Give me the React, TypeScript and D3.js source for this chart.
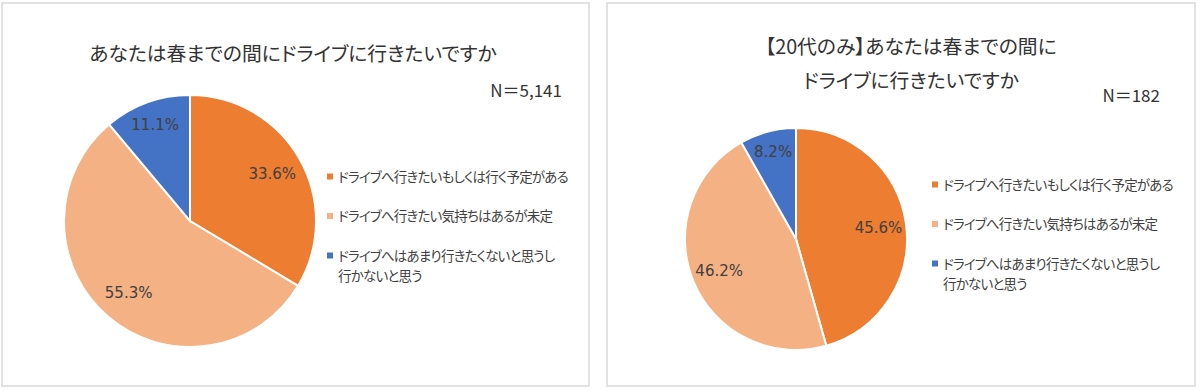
import React from 'react';
import * as d3 from 'd3';

// 回答カテゴリ（凡例）
const categories = [
  'ドライブへ行きたいもしくは行く予定がある',
  'ドライブへ行きたい気持ちはあるが未定',
  'ドライブへはあまり行きたくないと思うし行かないと思う',
];
const legendLines = [
  ['ドライブへ行きたいもしくは行く予定がある'],
  ['ドライブへ行きたい気持ちはあるが未定'],
  ['ドライブへはあまり行きたくないと思うし', '行かないと思う'],
];
const sliceColors = ['#ED7D31', '#F4B183', '#4472C4'];

// 全体 / 20代のみ (%)
const allValues = [33.6, 55.3, 11.1];
const twentiesValues = [45.6, 46.2, 8.2];

const titlesAll = ['あなたは春までの間にドライブに行きたいですか'];
const titlesTwenties = ['【20代のみ】あなたは春までの間に', 'ドライブに行きたいですか'];
const nLabels = ['N＝5,141', 'N＝182'];

const jpFont = '"Noto Sans CJK JP", "Noto Sans", sans-serif';
const numFont = '"DejaVu Sans", Verdana, sans-serif';

const panels = [
  {
    values: allValues, titles: titlesAll, n: nLabels[0],
    box: { x: 2, y: 3, w: 587, h: 383 },
    titleX: 293, titleY: 61, nX: 562, nY: 97,
    cx: 190, cy: 221, r: 126,
    legX: 330, legY: 176.5,
  },
  {
    values: twentiesValues, titles: titlesTwenties, n: nLabels[1],
    box: { x: 607, y: 3, w: 588, h: 383 },
    titleX: 911, titleY: 54, nX: 1160, nY: 102,
    cx: 796, cy: 239, r: 111,
    legX: 935, legY: 184.5,
  },
];

const PieChart = ({ p }) => {
  const pie = d3.pie<number>().sort(null).value(d => d);
  const arcs = pie(p.values);
  const arc = d3.arc<d3.PieArcDatum<number>>().innerRadius(0).outerRadius(p.r);
  const total = d3.sum(p.values);

  return (
    <g>
      <rect x={p.box.x} y={p.box.y} width={p.box.w} height={p.box.h}
        fill="#fff" stroke="#d9d9d9" strokeWidth={1.5} />
      {p.titles.map((t, i) => (
        <text key={i} x={p.titleX} y={p.titleY + i * 34} textAnchor="middle"
          fontFamily={jpFont} fontSize={19.8} fill="#333"
          style={{ fontFeatureSettings: '"palt"' }}>{t}</text>
      ))}
      <text x={p.nX} y={p.nY} textAnchor="end" fontFamily={jpFont} fontSize={17}
        fill="#333">{p.n}</text>
      <g transform={`translate(${p.cx},${p.cy})`}>
        {arcs.map((a, i) => (
          <path key={i} d={arc(a) || ''} fill={sliceColors[i]} stroke="#fff" strokeWidth={2} />
        ))}
        {arcs.map((a, i) => {
          const share = a.data / total;
          const k = share < 0.15 ? 0.81 : 0.75;
          const lr = d3.arc<d3.PieArcDatum<number>>().innerRadius(p.r * k).outerRadius(p.r * k);
          const [lx, ly] = lr.centroid(a);
          return (
            <text key={'l' + i} x={lx} y={ly} textAnchor="middle" dominantBaseline="central"
              fontFamily={numFont} fontSize={15} fill="#404040">
              {a.data.toFixed(1) + '%'}
            </text>
          );
        })}
      </g>
      {legendLines.map((lines, i) => {
        const y = p.legY + i * 39.5;
        return (
          <g key={categories[i]}>
            <rect x={p.legX - 3} y={y - 3} width={6} height={6} fill={sliceColors[i]} />
            {lines.map((ln, j) => (
              <text key={j} x={p.legX + 8} y={y + 5 + j * 20} fontFamily={jpFont} fontSize={13.5}
                letterSpacing={-0.8} fill="#404040"
                style={{ fontFeatureSettings: '"palt"' }}>{ln}</text>
            ))}
          </g>
        );
      })}
    </g>
  );
};

export default function App() {
  return (
    <svg width={1201} height={391} style={{ position: 'absolute', left: 0, top: 0, background: '#fff' }}>
      <rect x={0} y={0} width={1201} height={391} fill="#fff" />
      {panels.map((p, i) => <PieChart key={i} p={p} />)}
    </svg>
  );
}
